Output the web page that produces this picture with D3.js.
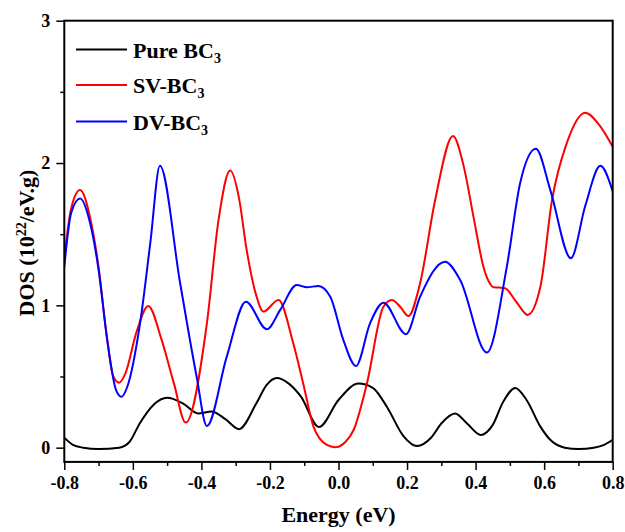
<!DOCTYPE html>
<html>
<head>
<meta charset="utf-8">
<script src="https://cdn.jsdelivr.net/npm/d3@7"></script>
<style>
    body { margin: 0; background: #fff; }
    svg text { font-family: "Liberation Serif", "Times New Roman", serif; font-weight: bold; fill: #000; }
</style>
</head>
<body>
<div id="chart"></div>
<script>
// energies (eV) and DOS values
const pureE = [-0.80, -0.775, -0.745, -0.70, -0.64, -0.61, -0.58, -0.54, -0.50, -0.453, -0.41, -0.37, -0.33, -0.29, -0.24, -0.21, -0.18, -0.145, -0.11, -0.057, 0.0, 0.058, 0.10, 0.141, 0.19, 0.229, 0.27, 0.30, 0.34, 0.375, 0.415, 0.45, 0.48, 0.516, 0.55, 0.589, 0.62, 0.66, 0.70, 0.745, 0.775, 0.80];
const pureDos = [0.07, 0.02, 0.0, -0.01, 0.0, 0.04, 0.17, 0.30, 0.35, 0.31, 0.24, 0.255, 0.20, 0.13, 0.31, 0.44, 0.49, 0.45, 0.36, 0.145, 0.335, 0.45, 0.42, 0.288, 0.08, 0.012, 0.07, 0.17, 0.24, 0.17, 0.089, 0.16, 0.32, 0.42, 0.33, 0.148, 0.05, 0.0, -0.01, 0.0, 0.02, 0.055];

const svE = [-0.80, -0.78, -0.754, -0.725, -0.70, -0.676, -0.657, -0.64, -0.622, -0.589, -0.555, -0.516, -0.48, -0.446, -0.384, -0.35, -0.316, -0.29, -0.268, -0.24, -0.219, -0.175, -0.132, -0.10, -0.073, -0.034, -0.01, 0.02, 0.044, 0.083, 0.131, 0.156, 0.18, 0.204, 0.238, 0.282, 0.334, 0.365, 0.394, 0.423, 0.44, 0.452, 0.47, 0.486, 0.52, 0.552, 0.589, 0.623, 0.666, 0.72, 0.76, 0.80];
const svDos = [1.33, 1.68, 1.81, 1.62, 1.27, 0.78, 0.50, 0.457, 0.52, 0.815, 0.996, 0.757, 0.45, 0.176, 0.874, 1.60, 1.947, 1.75, 1.39, 1.07, 0.956, 1.038, 0.733, 0.42, 0.148, 0.019, 0.003, 0.04, 0.124, 0.452, 0.99, 1.038, 0.99, 0.925, 1.155, 1.74, 2.19, 1.98, 1.62, 1.27, 1.16, 1.127, 1.125, 1.12, 1.02, 0.933, 1.13, 1.74, 2.14, 2.354, 2.27, 2.115];

const dvE = [-0.80, -0.78, -0.754, -0.725, -0.70, -0.676, -0.649, -0.633, -0.616, -0.579, -0.549, -0.521, -0.462, -0.414, -0.384, -0.326, -0.270, -0.209, -0.170, -0.122, -0.092, -0.059, -0.024, 0.014, 0.051, 0.092, 0.131, 0.197, 0.238, 0.311, 0.355, 0.433, 0.491, 0.530, 0.576, 0.618, 0.678, 0.72, 0.764, 0.80];
const dvDos = [1.27, 1.65, 1.75, 1.58, 1.25, 0.78, 0.405, 0.358, 0.43, 0.874, 1.44, 1.98, 1.155, 0.50, 0.152, 0.64, 1.026, 0.832, 0.968, 1.143, 1.127, 1.136, 1.06, 0.757, 0.574, 0.874, 1.019, 0.797, 1.06, 1.307, 1.178, 0.668, 1.27, 1.86, 2.10, 1.81, 1.331, 1.70, 1.98, 1.80];

const seriesNames = ["Pure BC", "SV-BC", "DV-BC"];
const xTicks = [-0.8, -0.6, -0.4, -0.2, 0.0, 0.2, 0.4, 0.6, 0.8];
const xMinor = [-0.7, -0.5, -0.3, -0.1, 0.1, 0.3, 0.5, 0.7];
const yTicks = [0, 1, 2, 3];
const yMinor = [0.5, 1.5, 2.5];

const width = 625, height = 532;
const plotL = 64.3, plotR = 612.7, plotT = 20.7, plotB = 461.9;

const svg = d3.select("#chart").append("svg")
    .attr("width", width)
    .attr("height", height);

const x = d3.scaleLinear().domain([-0.8, 0.8]).range([plotL, plotR]);
const y = d3.scaleLinear().domain([-0.1, 3]).range([plotB, plotT]);

const colors = ["#000000", "#ff0000", "#0000ff"];
const series = [
    d3.zip(pureE, pureDos),
    d3.zip(svE, svDos),
    d3.zip(dvE, dvDos)
];

const line = d3.line()
    .x(d => x(d[0]))
    .y(d => y(d[1]))
    .curve(d3.curveMonotoneX);

svg.append("clipPath").attr("id", "clip")
    .append("rect")
    .attr("x", plotL).attr("y", plotT)
    .attr("width", plotR - plotL).attr("height", plotB - plotT);

svg.append("g")
    .attr("clip-path", "url(#clip)")
    .selectAll("path")
    .data(series)
    .enter()
    .append("path")
    .attr("d", line)
    .attr("fill", "none")
    .attr("stroke", (d, i) => colors[i])
    .attr("stroke-width", 2);

// axes
svg.append("g")
    .attr("transform", "translate(0," + plotB + ")")
    .call(d3.axisBottom(x).tickValues(xTicks).tickSize(8).tickPadding(6)
        .tickFormat(d => d.toFixed(1)));
svg.append("g")
    .attr("transform", "translate(0," + plotB + ")")
    .call(d3.axisBottom(x).tickValues(xMinor).tickSize(4).tickFormat(""));

svg.append("g")
    .attr("transform", "translate(" + plotL + ",0)")
    .call(d3.axisLeft(y).tickValues(yTicks).tickSize(8).tickPadding(6)
        .tickFormat(d3.format("d")));
svg.append("g")
    .attr("transform", "translate(" + plotL + ",0)")
    .call(d3.axisLeft(y).tickValues(yMinor).tickSize(4).tickFormat(""));

svg.selectAll(".domain").remove();
svg.selectAll(".tick line").attr("stroke", "#000").attr("stroke-width", 1.5);
svg.selectAll(".tick text").style("font-size", "18px");

// frame
svg.append("rect")
    .attr("x", plotL).attr("y", plotT)
    .attr("width", plotR - plotL).attr("height", plotB - plotT)
    .attr("fill", "none")
    .attr("stroke", "#000")
    .attr("stroke-width", 2);

// axis titles
svg.append("text")
    .attr("x", (plotL + plotR) / 2)
    .attr("y", 522)
    .attr("text-anchor", "middle")
    .style("font-size", "22px")
    .text("Energy (eV)");

const yTitle = svg.append("text")
    .attr("transform", "translate(34,243) rotate(-90)")
    .attr("text-anchor", "middle")
    .style("font-size", "22px");
yTitle.append("tspan").text("DOS (10");
yTitle.append("tspan").attr("dy", -8).style("font-size", "14px").text("22");
yTitle.append("tspan").attr("dy", 8).text("/eV.g)");

// legend
const legend = svg.append("g")
    .selectAll("g")
    .data(seriesNames)
    .enter()
    .append("g")
    .attr("transform", (d, i) => "translate(0," + [49.5, 85, 121.5][i] + ")");

legend.append("line")
    .attr("x1", 76).attr("x2", 127)
    .attr("stroke", (d, i) => colors[i])
    .attr("stroke-width", 2);

const ltext = legend.append("text")
    .attr("x", 133)
    .attr("y", 8)
    .style("font-size", "22px");
ltext.append("tspan").text(d => d);
ltext.append("tspan").attr("dy", 5).style("font-size", "14px").text("3");
</script>
</body>
</html>
